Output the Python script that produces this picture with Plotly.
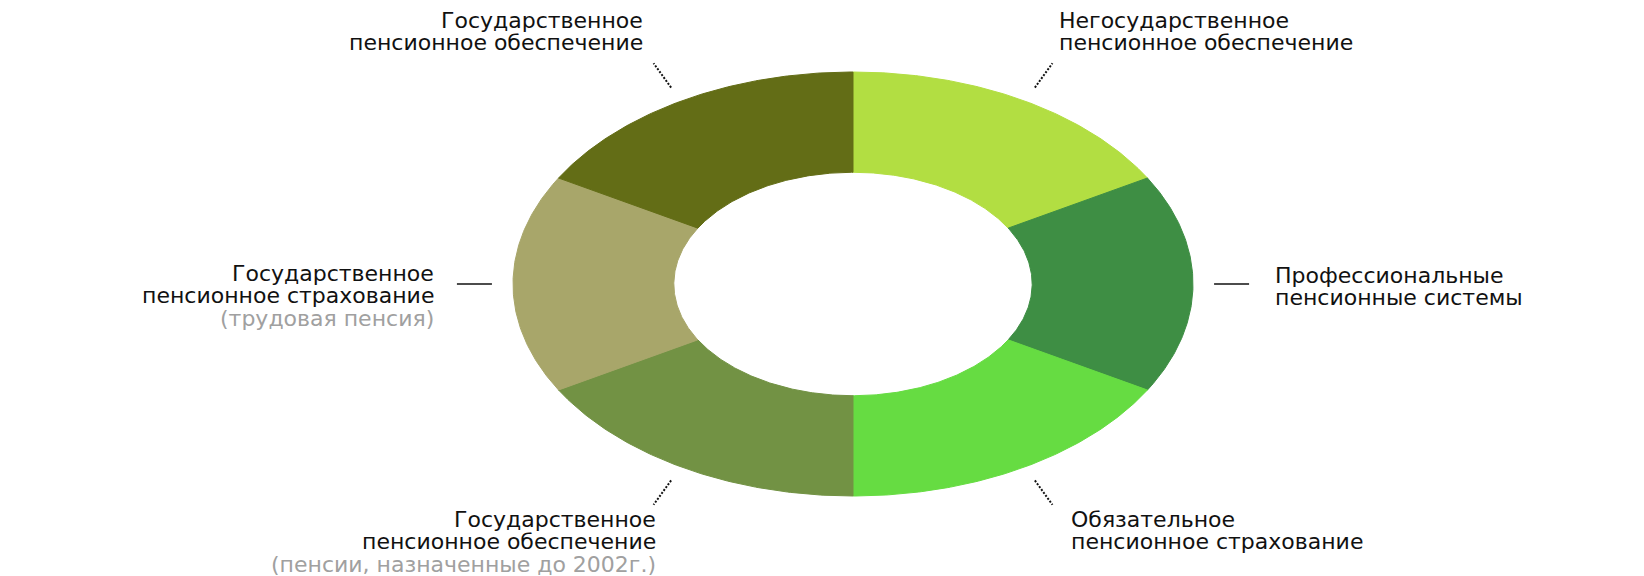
import numpy as np
import plotly.graph_objects as go

# ---- data ----
categories = [
    "Негосударственное пенсионное обеспечение",
    "Профессиональные пенсионные системы",
    "Обязательное пенсионное страхование",
    "Государственное пенсионное обеспечение (пенсии, назначенные до 2002г.)",
    "Государственное пенсионное страхование (трудовая пенсия)",
    "Государственное пенсионное обеспечение",
]
values = [1, 1, 1, 1, 1, 1]
label_lines = [
    ["Негосударственное", "пенсионное обеспечение"],
    ["Профессиональные", "пенсионные системы"],
    ["Обязательное", "пенсионное страхование"],
    ["Государственное", "пенсионное обеспечение"],
    ["Государственное", "пенсионное страхование"],
    ["Государственное", "пенсионное обеспечение"],
]
sub_lines = [
    None,
    None,
    None,
    "(пенсии, назначенные до 2002г.)",
    "(трудовая пенсия)",
    None,
]

# ---- styles / layout ----
colors = ["#b2de42", "#3e8e44", "#66dc42", "#729244", "#a8a66a", "#636d16"]
W, H = 1644, 576
cx, cy = 853, 284
rx, ry = 340, 212
hole = 0.527
font_family = "DejaVu Sans"
font_size = 22
line_gap = 22.5
# (anchor x, xanchor, first baseline y) for each label
label_pos = [
    (1057, "left", 27),
    (1273, "left", 282),
    (1069, "left", 526),
    (658, "right", 526),
    (436, "right", 280),
    (645, "right", 27),
]

fig = go.Figure()

total = float(sum(values))
cum = np.concatenate([[0.0], np.cumsum(values)])
mid_angles = []
for i, v in enumerate(values):
    a0 = 90 - 360 * cum[i] / total
    a1 = 90 - 360 * cum[i + 1] / total
    mid_angles.append((a0 + a1) / 2)
    t = np.radians(np.linspace(a0, a1, 120))
    xo = cx + rx * np.cos(t)
    yo = cy - ry * np.sin(t)
    xi = cx + hole * rx * np.cos(t[::-1])
    yi = cy - hole * ry * np.sin(t[::-1])
    xs = np.concatenate([xo, xi, xo[:1]])
    ys = np.concatenate([yo, yi, yo[:1]])
    fig.add_trace(go.Scatter(
        x=xs, y=ys, mode="lines", fill="toself",
        fillcolor=colors[i], line=dict(color=colors[i], width=1),
        name=categories[i], hoverinfo="name", showlegend=False,
    ))

# leader ticks
for i, a in enumerate(mid_angles):
    t = np.radians(a)
    horizontal = abs(np.sin(t)) < 0.1
    r1 = 1.062 if horizontal else 1.07
    x1 = cx + r1 * rx * np.cos(t)
    y1 = cy - r1 * ry * np.sin(t)
    dx, dy = np.cos(t) * 1.25, np.sin(t)
    n = np.hypot(dx, dy)
    dx, dy = dx / n, dy / n
    L = 35 if horizontal else 30
    x2 = x1 + L * dx
    y2 = y1 - L * dy
    fig.add_trace(go.Scatter(
        x=[x1, x2], y=[y1, y2], mode="lines",
        line=dict(color="#111111", width=1.6 if horizontal else 2,
                  dash="solid" if horizontal else "2px,1.6px"),
        hoverinfo="skip", showlegend=False,
    ))

# labels
annotations = []
for i, lines in enumerate(label_lines):
    x0, anchor, b0 = label_pos[i]
    all_lines = [(s, "#111111") for s in lines]
    if sub_lines[i]:
        all_lines.append((sub_lines[i], "#a0a0a0"))
    for k, (s, col) in enumerate(all_lines):
        base = b0 + k * line_gap
        annotations.append(dict(
            x=x0, y=base - 7, xref="x", yref="y", text=s,
            showarrow=False, xanchor=anchor, yanchor="middle",
            font=dict(family=font_family, size=font_size, color=col),
        ))

fig.update_layout(
    width=W, height=H,
    margin=dict(l=0, r=0, t=0, b=0),
    paper_bgcolor="white", plot_bgcolor="white",
    xaxis=dict(range=[0, W], visible=False, fixedrange=True),
    yaxis=dict(range=[H, 0], visible=False, fixedrange=True),
    annotations=annotations,
    showlegend=False,
)

fig.write_html(
    "out.html",
    config={"displayModeBar": False},
    post_script="document.body.style.margin='0';document.body.style.padding='0';document.body.style.overflow='hidden';",
)
